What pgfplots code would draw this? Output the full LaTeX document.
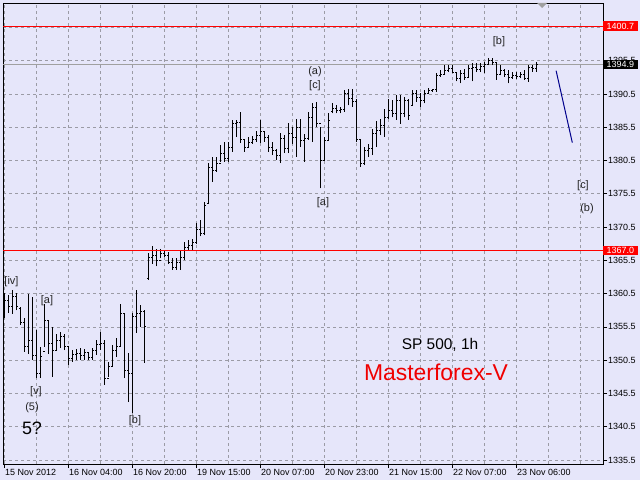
\documentclass[border=0pt]{standalone}
\usepackage{pgfplots}
\pgfplotsset{compat=1.18}
\usepackage{pgfplotstable}
\usepackage{fontspec}
\setmainfont{Liberation Sans}
\definecolor{bgc}{RGB}{230,230,250}
\definecolor{gridc}{RGB}{155,155,165}
\definecolor{pricec}{RGB}{160,160,160}
\definecolor{annc}{RGB}{35,35,35}
\definecolor{mfred}{RGB}{240,0,0}
\definecolor{navyc}{RGB}{0,0,140}

\pgfplotstableread{
i O H L C
0 1357.5 1360.6 1356.8 1359.5
1 1359.5 1360.3 1357.6 1358.5
2 1358.5 1361.1 1357.5 1360.0
3 1360.0 1360.6 1358.0 1358.5
4 1358.3 1358.5 1355.8 1356.2
5 1356.2 1356.8 1351.8 1352.5
6 1352.5 1360.4 1351.5 1353.5
7 1353.5 1360.0 1350.6 1351.2
8 1351.2 1355.0 1347.8 1348.5
9 1348.5 1352.5 1347.8 1351.0
10 1351.8 1359.0 1352.5 1356.5
11 1356.5 1356.5 1351.5 1353.0
12 1353.0 1355.5 1348.0 1352.0
13 1352.0 1354.5 1352.0 1353.5
14 1353.5 1354.8 1352.3 1354.0
15 1354.0 1354.5 1352.0 1352.6
16 1352.6 1352.5 1349.8 1350.8
17 1350.8 1352.0 1350.3 1351.3
18 1351.3 1352.2 1350.5 1351.5
19 1351.5 1352.3 1350.6 1351.2
20 1351.2 1352.2 1350.5 1351.6
21 1351.6 1351.8 1350.6 1350.9
22 1350.9 1352.3 1350.6 1351.9
23 1351.9 1353.6 1351.3 1352.8
24 1352.8 1354.8 1352.1 1353.0
25 1353.0 1353.5 1346.8 1347.8
26 1347.8 1350.3 1348.0 1349.5
27 1349.5 1352.8 1349.5 1352.0
28 1352.0 1353.8 1351.0 1352.6
29 1352.6 1359.0 1352.6 1357.5
30 1357.5 1357.5 1347.8 1349.0
31 1349.0 1351.6 1344.2 1348.5
32 1348.5 1357.6 1342.6 1357.0
33 1357.0 1361.0 1354.6 1357.5
34 1357.5 1358.8 1355.5 1357.8
35 1357.8 1358.0 1350.1 1355.5
36 1362.8 1366.6 1362.6 1366.0
37 1366.0 1367.6 1365.0 1366.3
38 1366.3 1367.2 1364.6 1365.5
39 1365.5 1367.2 1365.8 1366.6
40 1366.6 1367.0 1366.0 1366.3
41 1366.3 1366.8 1365.0 1365.2
42 1365.2 1365.8 1364.1 1364.5
43 1364.5 1365.8 1364.1 1365.2
44 1365.2 1367.0 1364.1 1366.0
45 1366.0 1368.3 1365.5 1367.5
46 1367.5 1368.6 1367.0 1367.8
47 1367.8 1368.7 1367.0 1368.2
48 1368.2 1371.1 1368.0 1370.2
49 1370.2 1371.5 1369.1 1369.6
50 1369.6 1374.3 1369.3 1373.8
51 1374.0 1380.1 1374.0 1379.5
52 1379.5 1381.0 1377.3 1379.0
53 1379.0 1381.0 1378.8 1380.0
54 1380.0 1382.8 1380.3 1381.5
55 1381.5 1383.3 1380.3 1380.8
56 1380.8 1383.3 1380.3 1382.5
57 1382.5 1386.6 1381.8 1386.0
58 1386.0 1386.6 1384.0 1386.2
59 1386.2 1387.8 1383.1 1383.6
60 1383.6 1383.6 1381.8 1382.4
61 1382.4 1384.0 1382.4 1383.2
62 1383.2 1384.2 1383.0 1383.6
63 1383.6 1385.0 1383.3 1384.3
64 1384.3 1386.6 1383.1 1384.8
65 1384.8 1385.0 1383.3 1384.0
66 1384.0 1384.4 1381.8 1382.5
67 1382.5 1383.3 1381.3 1382.0
68 1382.0 1382.3 1380.6 1381.3
69 1381.3 1384.6 1380.1 1383.8
70 1383.8 1384.4 1381.6 1382.3
71 1382.3 1386.1 1381.6 1384.5
72 1384.5 1385.5 1383.0 1384.0
73 1384.0 1386.8 1381.1 1385.5
74 1385.5 1386.7 1382.5 1383.5
75 1383.5 1384.5 1380.3 1383.8
76 1383.8 1387.8 1383.6 1387.0
77 1387.0 1389.1 1383.3 1388.5
78 1388.5 1389.3 1385.6 1386.0
79 1386.0 1385.6 1376.3 1380.5
80 1380.5 1384.1 1380.6 1383.5
81 1383.5 1387.6 1383.5 1386.5
82 1387.8 1389.1 1387.6 1388.3
83 1388.3 1388.8 1387.6 1388.0
84 1388.0 1388.6 1387.6 1388.2
85 1388.2 1391.1 1387.8 1390.5
86 1390.5 1391.3 1388.8 1389.8
87 1389.8 1391.3 1388.6 1389.3
88 1389.3 1389.8 1383.3 1383.6
89 1383.6 1383.6 1379.6 1380.0
90 1380.0 1382.6 1379.8 1382.0
91 1382.0 1383.0 1381.0 1382.3
92 1382.3 1385.3 1381.3 1384.5
93 1384.5 1386.4 1382.5 1385.0
94 1385.0 1386.8 1384.3 1385.8
95 1385.8 1388.3 1384.1 1387.0
96 1387.0 1389.8 1386.8 1388.0
97 1388.0 1389.6 1387.0 1387.5
98 1387.5 1390.3 1386.6 1389.5
99 1389.5 1390.3 1386.0 1387.5
100 1387.5 1390.0 1387.0 1389.5
101 1389.5 1389.8 1386.6 1387.2
102 1388.8 1391.1 1388.8 1390.5
103 1390.5 1391.1 1389.3 1390.0
104 1390.0 1390.6 1388.6 1389.5
105 1389.5 1391.1 1389.1 1390.6
106 1390.6 1391.4 1390.5 1391.0
107 1391.0 1391.3 1390.8 1391.1
108 1391.1 1393.6 1390.8 1393.3
109 1393.3 1394.1 1393.1 1393.5
110 1393.5 1394.8 1393.4 1394.0
111 1394.0 1394.8 1393.8 1394.3
112 1394.3 1394.8 1393.6 1393.8
113 1393.8 1393.8 1392.4 1392.8
114 1392.8 1394.1 1392.1 1393.6
115 1393.6 1394.3 1392.6 1393.0
116 1393.0 1394.8 1393.0 1394.3
117 1394.3 1395.1 1392.4 1394.5
118 1394.5 1395.1 1393.8 1394.2
119 1394.2 1395.1 1393.8 1394.6
120 1394.6 1395.3 1393.6 1395.0
121 1395.0 1395.85 1394.85 1395.5
122 1395.5 1395.85 1394.85 1395.2
123 1395.2 1395.35 1392.6 1393.5
124 1393.5 1394.8 1393.3 1394.0
125 1394.0 1394.3 1393.1 1393.5
126 1393.5 1394.1 1392.1 1393.0
127 1393.0 1393.8 1392.8 1393.3
128 1393.3 1393.8 1392.8 1393.1
129 1393.1 1393.8 1392.9 1393.4
130 1393.4 1394.1 1392.6 1392.9
131 1392.9 1394.85 1392.35 1394.5
132 1394.5 1394.85 1393.85 1394.3
133 1394.3 1395.35 1393.85 1394.9
}\bars

\begin{document}
\begin{tikzpicture}
\path[use as bounding box] (0,0) rectangle (640bp,480bp);
\clip (0,0) rectangle (640bp,480bp);
\fill[bgc] (0,0) rectangle (640bp,480bp);
\begin{axis}[
  at={(3bp,16bp)}, anchor=south west,
  scale only axis, width=600bp, height=461bp,
  xmin=-0.375, xmax=149.625, ymin=1334.9, ymax=1404.17,
  axis line style={black, line width=0.8bp},
  xtick={0,16,...,128},
  xticklabels={15 Nov 2012,16 Nov 04:00,16 Nov 20:00,19 Nov 15:00,20 Nov 07:00,20 Nov 23:00,21 Nov 15:00,22 Nov 07:00,23 Nov 06:00},
  minor xtick={8,24,40,56,72,88,104,120,136,144},
  ytick={1335.5,1340.5,1345.5,1350.5,1355.5,1360.5,1365.5,1370.5,1375.5,1380.5,1385.5,1390.5,1395.5,1400.5},
  yticklabels={1335.5,1340.5,1345.5,1350.5,1355.5,1360.5,1365.5,1370.5,1375.5,1380.5,1385.5,1390.5,1395.5,1400.5},
  xtick pos=left, ytick pos=right, yticklabel pos=right,
  tick align=outside, major tick length=4bp, minor tick length=0pt,
  tick style={black, line width=0.8bp},
  grid=both,
  major grid style={gridc, dash pattern=on 3bp off 3bp, line width=0.8bp},
  minor grid style={gridc, dash pattern=on 3bp off 3bp, line width=0.8bp},
  xticklabel style={font=\fontsize{9}{10}\selectfont, anchor=north west, inner sep=0pt, xshift=0.5bp, yshift=-1bp},
  yticklabel style={font=\fontsize{9}{10}\selectfont, anchor=west, inner sep=0pt, xshift=1bp},
  /pgf/number format/assume math mode=true,
]
\addplot[pricec, line width=1bp, no marks] coordinates {(-0.375,1394.9) (149.625,1394.9)};
\addplot[draw=none, no markers, error bars/.cd, y dir=plus, y explicit, error mark=none, error bar style={draw=black, solid, line width=1bp}]
  table[x=i, y=L, y error plus expr=\thisrow{H}-\thisrow{L}] {\bars};
\addplot[draw=none, no markers, error bars/.cd, x dir=minus, x fixed=0.3, error mark=none, error bar style={draw=black, solid, line width=1bp}]
  table[x=i, y=O] {\bars};
\addplot[draw=none, no markers, error bars/.cd, x dir=plus, x fixed=0.3, error mark=none, error bar style={draw=black, solid, line width=1bp}]
  table[x=i, y=C] {\bars};
\addplot[red, line width=1bp, no marks] coordinates {(-0.375,1400.7) (149.625,1400.7)};
\addplot[red, line width=1bp, no marks] coordinates {(-0.375,1367.0) (149.625,1367.0)};
\addplot[navyc, line width=1bp, no marks] coordinates {(137.9,1394.0) (141.95,1383.2)};
\end{axis}
% value boxes on price scale
\node[fill=red, text=white, anchor=west, inner xsep=3.5bp, inner ysep=1.5bp, font=\fontsize{9}{10}\selectfont] at (603bp,453.9bp) {1400.7};
\node[fill=red, text=white, anchor=west, inner xsep=3.5bp, inner ysep=1.5bp, font=\fontsize{9}{10}\selectfont] at (603bp,229.6bp) {1367.0};
\node[fill=black, text=white, anchor=west, inner xsep=3.5bp, inner ysep=1.5bp, font=\fontsize{9}{10}\selectfont] at (603bp,415.3bp) {1394.9};
% chart shift marker
\fill[pricec] (537bp,477bp) -- (547bp,477bp) -- (542bp,472bp) -- cycle;
% wave annotations
\begin{scope}[every node/.style={inner sep=0pt, text=annc, font=\fontsize{11}{12}\selectfont}]
\node at (11.5bp,198bp) {[iv]};
\node at (47bp,179bp) {[a]};
\node at (36bp,88bp) {[v]};
\node at (32bp,72bp) {(5)};
\node[font=\fontsize{18}{20}\selectfont, text=black] at (32bp,52bp) {5?};
\node at (135bp,59bp) {[b]};
\node at (315bp,408bp) {(a)};
\node at (315bp,394bp) {[c]};
\node at (323bp,277bp) {[a]};
\node at (499bp,438bp) {[b]};
\node at (583bp,294bp) {[c]};
\node at (587bp,271bp) {(b)};
\node[font=\fontsize{15.5}{17}\selectfont, text=black] at (440bp,135bp) {SP 500, 1h};
\node[font=\fontsize{23}{25}\selectfont, text=mfred] at (436bp,108bp) {Masterforex-V};
\end{scope}
\end{tikzpicture}
\end{document}
